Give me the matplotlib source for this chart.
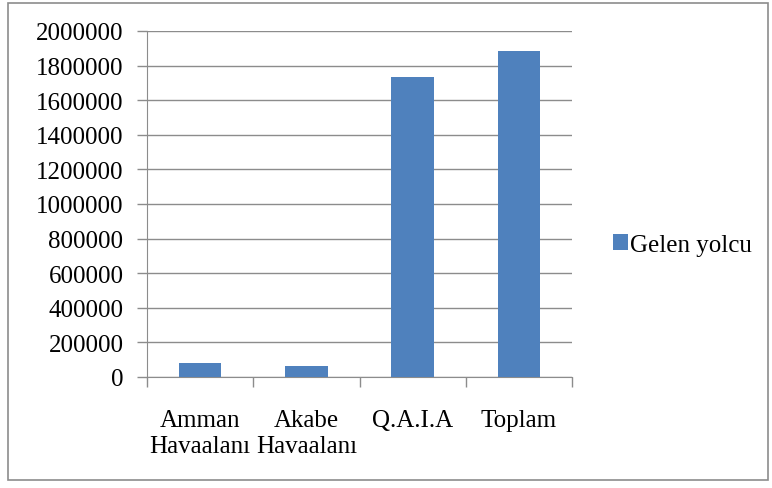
import matplotlib.pyplot as plt
from matplotlib.patches import Rectangle

categories = ['Amman\nHavaalanı', 'Akabe\nHavaalanı', 'Q.A.I.A', 'Toplam']
gelen_yolcu = [79000, 64000, 1732000, 1884000]
yticks = list(range(0, 2000001, 200000))

plt.rcParams['font.family'] = ['Liberation Serif', 'DejaVu Serif']

W, H = 772, 489
fig = plt.figure(figsize=(W / 100, H / 100), dpi=100)
ax = fig.add_axes([147 / W, 1 - 378 / H, (572 - 147) / W, (378 - 32) / H])

x = range(len(categories))
ax.bar(x, gelen_yolcu, width=0.4, color='#4f81bd', label='Gelen yolcu', zorder=3)

ax.set_xlim(-0.5, len(categories) - 0.5)
ax.set_ylim(0, 2000000)
ax.set_yticks(yticks)
ax.set_yticklabels([str(v) for v in yticks], fontsize=18)
ax.set_xticks([i - 0.5 for i in range(len(categories) + 1)])
ax.set_xticklabels([])
for i, c in enumerate(categories):
    ax.text(i, -0.092, c, transform=ax.get_xaxis_transform(), ha='center', va='top',
            fontsize=18, linespacing=1.25)

ax.grid(axis='y', color='#8c8c8c', linewidth=1, zorder=0)
for s in ['top', 'right']:
    ax.spines[s].set_visible(False)
for s in ['left', 'bottom']:
    ax.spines[s].set_color('#8c8c8c')
ax.tick_params(axis='both', direction='out', color='#8c8c8c', length=7, width=1)
ax.tick_params(axis='y', pad=10)

fig.legend(loc='center left', bbox_to_anchor=(590 / W, 1 - 246 / H), frameon=False,
           fontsize=18, handlelength=0.6, handleheight=0.6, handletextpad=0.12)

fig.patches.append(Rectangle((8 / W, 1 - 481 / H), 760 / W, 477 / H, transform=fig.transFigure,
                             fill=False, edgecolor='#8c8c8c', linewidth=1.2))

fig.savefig('out.png', dpi=100)
